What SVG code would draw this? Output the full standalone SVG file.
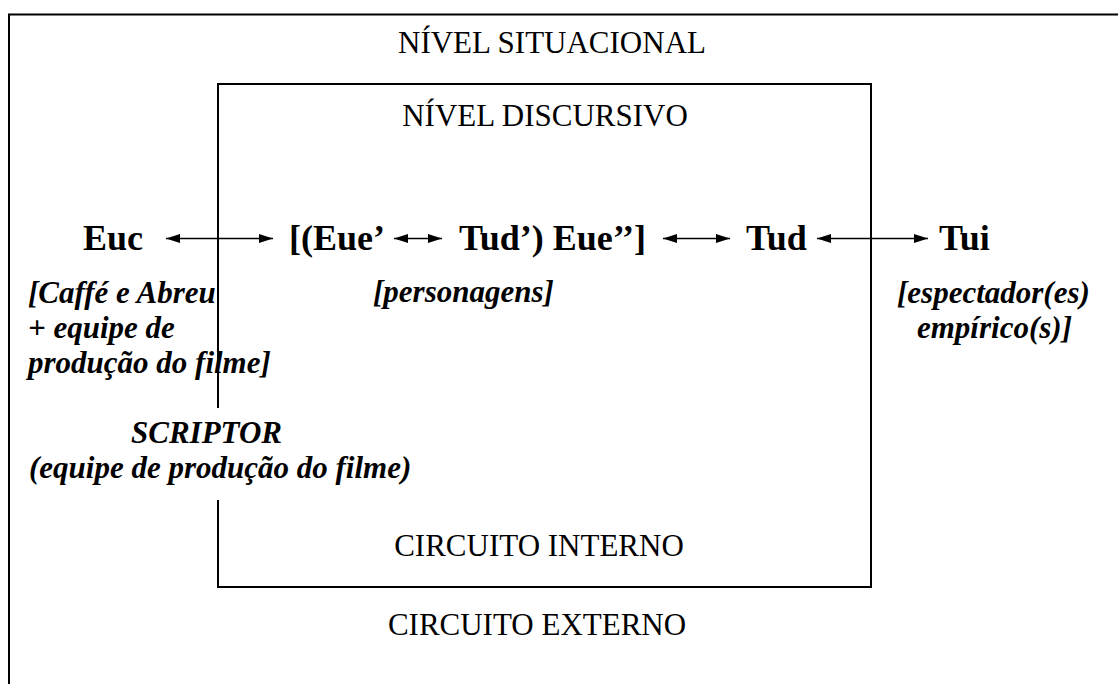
<svg xmlns="http://www.w3.org/2000/svg" width="1118" height="684" viewBox="0 0 1118 684">
<style>
.frame{fill:none;stroke:#000;stroke-width:2}
.lvl{font-family:"Liberation Serif","Times New Roman",serif;font-size:31px;fill:#000;text-anchor:middle}
.node{font-family:"Liberation Serif","Times New Roman",serif;font-size:36px;font-weight:bold;fill:#000}
.note{font-family:"Liberation Serif","Times New Roman",serif;font-size:31px;font-weight:bold;font-style:italic;fill:#000}
.arrow{stroke:#000;stroke-width:1.6;fill:none;marker-start:url(#ah);marker-end:url(#ah)}
</style>
<defs>
<marker id="ah" markerUnits="userSpaceOnUse" markerWidth="14" markerHeight="10" refX="14" refY="5" orient="auto-start-reverse">
<path d="M0,0.5 L14,5 L0,9.5 z" fill="#000"/>
</marker>
</defs>
<rect width="1118" height="684" fill="#fff"/>
<g id="outer-frame">
<path class="frame" d="M9,684 L9,14.5 L1118,14.5"/>
<text class="lvl" x="552" y="53">NÍVEL SITUACIONAL</text>
<text class="lvl" x="537" y="635">CIRCUITO EXTERNO</text>
</g>
<g id="inner-frame">
<path class="frame" d="M218,408 L218,84 L871,84 L871,587 L218,587 L218,500"/>
<text class="lvl" x="545" y="126">NÍVEL DISCURSIVO</text>
<text class="lvl" x="539" y="556">CIRCUITO INTERNO</text>
</g>
<g id="connectors">
<line class="arrow" x1="166" y1="238.5" x2="273" y2="238.5"/>
<line class="arrow" x1="394" y1="238.5" x2="442" y2="238.5"/>
<line class="arrow" x1="663" y1="238.5" x2="730" y2="238.5"/>
<line class="arrow" x1="817" y1="238.5" x2="928" y2="238.5"/>
</g>
<g id="node-euc">
<text class="node" x="83" y="250">Euc</text>
<text class="note" x="28" y="303">[Caffé e Abreu</text>
<text class="note" x="28" y="338">+ equipe de</text>
<text class="note" x="28" y="373">produção do filme]</text>
</g>
<g id="node-eue">
<text class="node" x="289" y="250">[(Eue’</text>
</g>
<g id="node-tud-eue">
<text class="node" x="459" y="250">Tud’) Eue’’]</text>
<text class="note" x="373" y="302">[personagens]</text>
</g>
<g id="node-tud">
<text class="node" x="746" y="250">Tud</text>
</g>
<g id="node-tui">
<text class="node" x="939" y="250">Tui</text>
<text class="note" x="897" y="303">[espectador(es)</text>
<text class="note" x="917" y="338">empírico(s)]</text>
</g>
<g id="node-scriptor">
<text class="note" x="131" y="443">SCRIPTOR</text>
<text class="note" x="29" y="478">(equipe de produção do filme)</text>
</g>
</svg>
